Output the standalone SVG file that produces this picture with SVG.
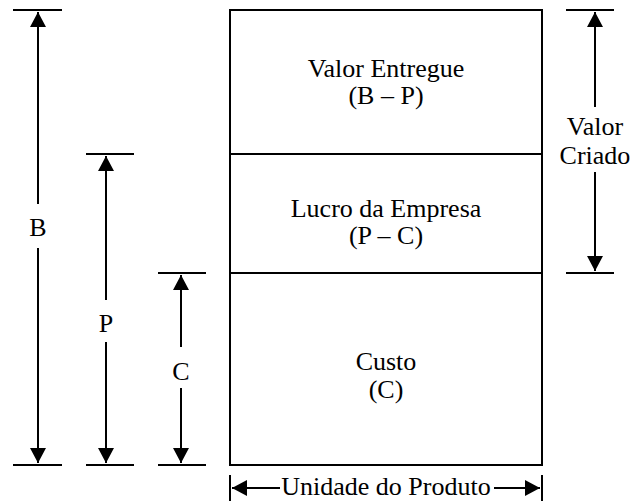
<svg xmlns="http://www.w3.org/2000/svg" width="635" height="501" viewBox="0 0 635 501">
<style>
.l{stroke:#000;stroke-width:2;fill:none}
.t{font-family:"Liberation Serif","Times New Roman",serif;font-size:26px;fill:#000;text-anchor:middle}
</style>
<defs>
<marker id="ah" markerWidth="16" markerHeight="16" refX="15" refY="8" orient="auto" markerUnits="userSpaceOnUse">
<path d="M0,0 L15,8 L0,16 Z" fill="#000"/>
</marker>
</defs>
<rect width="635" height="501" fill="#fff"/>
<g id="box-valor-entregue">
<rect x="230" y="10" width="312" height="144" class="l"/>
<text class="t" x="386" y="77">Valor Entregue</text>
<text class="t" x="386" y="104">(B – P)</text>
</g>
<g id="box-lucro">
<rect x="230" y="154" width="312" height="119" class="l"/>
<text class="t" x="386" y="217">Lucro da Empresa</text>
<text class="t" x="386" y="244">(P – C)</text>
</g>
<g id="box-custo">
<rect x="230" y="273" width="312" height="192" class="l"/>
<text class="t" x="386" y="370">Custo</text>
<text class="t" x="386" y="398">(C)</text>
</g>
<g id="connectors">
<line class="l" x1="13" y1="10" x2="62" y2="10"/>
<line class="l" x1="13" y1="465" x2="62" y2="465"/>
<line class="l" x1="38" y1="204" x2="38" y2="12" marker-end="url(#ah)"/>
<line class="l" x1="38" y1="248" x2="38" y2="463" marker-end="url(#ah)"/>
<line class="l" x1="86" y1="154" x2="134" y2="154"/>
<line class="l" x1="86" y1="465" x2="134" y2="465"/>
<line class="l" x1="106" y1="300" x2="106" y2="156" marker-end="url(#ah)"/>
<line class="l" x1="106" y1="342" x2="106" y2="463" marker-end="url(#ah)"/>
<line class="l" x1="158" y1="273" x2="206" y2="273"/>
<line class="l" x1="158" y1="465" x2="206" y2="465"/>
<line class="l" x1="181" y1="347" x2="181" y2="275" marker-end="url(#ah)"/>
<line class="l" x1="181" y1="388" x2="181" y2="463" marker-end="url(#ah)"/>
<line class="l" x1="566" y1="10" x2="614" y2="10"/>
<line class="l" x1="566" y1="273" x2="614" y2="273"/>
<line class="l" x1="595" y1="107" x2="595" y2="12" marker-end="url(#ah)"/>
<line class="l" x1="595" y1="172" x2="595" y2="271" marker-end="url(#ah)"/>
<line class="l" x1="230" y1="475" x2="230" y2="501"/>
<line class="l" x1="542" y1="475" x2="542" y2="501"/>
<line class="l" x1="280" y1="488" x2="232" y2="488" marker-end="url(#ah)"/>
<line class="l" x1="494" y1="488" x2="540" y2="488" marker-end="url(#ah)"/>
</g>
<g id="labels">
<text class="t" x="38" y="236">B</text>
<text class="t" x="106" y="332">P</text>
<text class="t" x="181" y="380">C</text>
<text class="t" x="595" y="135">Valor</text>
<text class="t" x="595" y="164">Criado</text>
<text class="t" x="386" y="495" font-size="25">Unidade do Produto</text>
</g>
</svg>
